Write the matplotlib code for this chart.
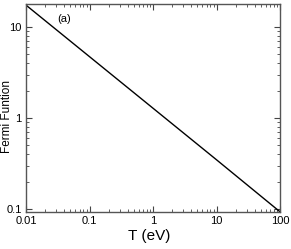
import matplotlib
matplotlib.use("Agg")
import matplotlib.pyplot as plt
from matplotlib.ticker import LogLocator, FixedLocator, FixedFormatter, NullFormatter

plt.rcParams['font.family'] = ['Liberation Sans', 'DejaVu Sans']

T = [0.01, 0.1, 1, 10, 100]
F = [17.4, 4.72, 1.28, 0.347, 0.093]
xticks = [0.01, 0.1, 1, 10, 100]
xticklabels = ["0.01", "0.1", "1", "10", "100"]
yticks = [0.1, 1, 10]
yticklabels = ["0.1", "1", "10"]

fig = plt.figure(figsize=(2.91, 2.49), dpi=100)
ax = fig.add_axes([26/291, 1 - 212/249, (280-26)/291, (212-4)/249])
ax.plot(T, F, color='black', lw=1.0)
ax.set_xscale('log')
ax.set_yscale('log')
ax.set_xlim(0.01, 100)
ax.set_ylim(0.0925, 17.9)

ax.xaxis.set_major_locator(FixedLocator(xticks))
ax.xaxis.set_major_formatter(FixedFormatter(xticklabels))
ax.xaxis.set_minor_locator(LogLocator(base=10, subs=range(2, 10)))
ax.xaxis.set_minor_formatter(NullFormatter())
ax.yaxis.set_major_locator(FixedLocator(yticks))
ax.yaxis.set_major_formatter(FixedFormatter(yticklabels))
ax.yaxis.set_minor_locator(LogLocator(base=10, subs=range(2, 10)))
ax.yaxis.set_minor_formatter(NullFormatter())

ax.tick_params(which='both', direction='in', top=True, right=True, colors='#444444', labelcolor='black', labelsize=8)
ax.tick_params(which='major', length=4, width=0.8, pad=3)
ax.tick_params(which='minor', length=2, width=0.6)
for s in ax.spines.values():
    s.set_color('#555555')
    s.set_linewidth(1.0)

ax.set_xlabel("T (eV)", fontsize=11)
ax.xaxis.set_label_coords(0.484, -0.08)
ax.set_ylabel("Fermi Funtion", fontsize=8.5)
ax.yaxis.set_label_coords(-0.05, 0.46)
ax.text(0.15, 0.93, "(a)", transform=ax.transAxes, fontsize=8, ha='center', va='center')

fig.savefig("out.png", dpi=100)
